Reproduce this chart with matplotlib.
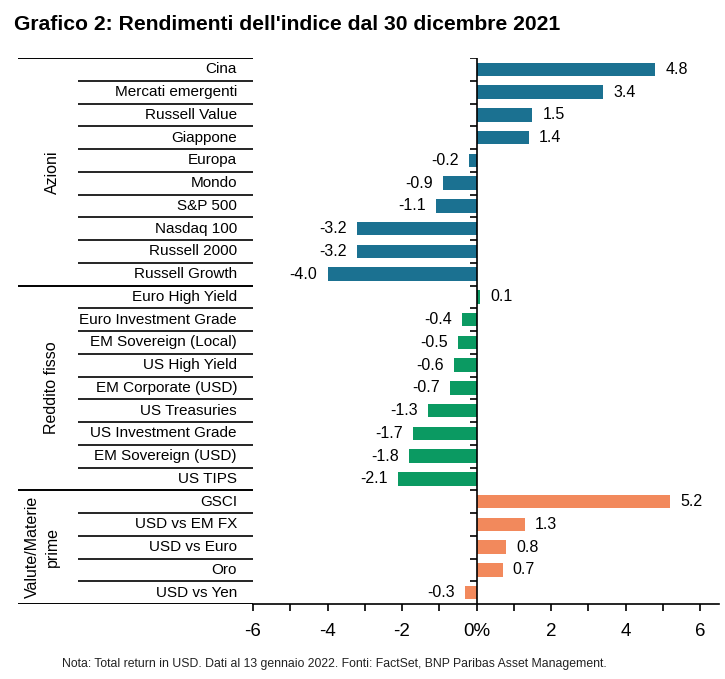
import matplotlib
matplotlib.use("Agg")
import matplotlib.pyplot as plt
import numpy as np

plt.rcParams['font.family'] = ['Liberation Sans', 'DejaVu Sans']

# dati
categorie = ['Cina', 'Mercati emergenti', 'Russell Value', 'Giappone', 'Europa',
             'Mondo', 'S&P 500', 'Nasdaq 100', 'Russell 2000', 'Russell Growth',
             'Euro High Yield', 'Euro Investment Grade', 'EM Sovereign (Local)',
             'US High Yield', 'EM Corporate (USD)', 'US Treasuries',
             'US Investment Grade', 'EM Sovereign (USD)', 'US TIPS',
             'GSCI', 'USD vs EM FX', 'USD vs Euro', 'Oro', 'USD vs Yen']
valori = [4.8, 3.4, 1.5, 1.4, -0.2, -0.9, -1.1, -3.2, -3.2, -4.0,
          0.1, -0.4, -0.5, -0.6, -0.7, -1.3, -1.7, -1.8, -2.1,
          5.2, 1.3, 0.8, 0.7, -0.3]
gruppi = ['Azioni', 'Reddito fisso', 'Valute/Materie\nprime']
n_gruppo = [10, 9, 5]
colori_gruppo = ['#1b7191', '#0b9a62', '#f2895c']
xticks = [-6, -4, -2, 0, 2, 4, 6]
xticklabels = ['-6', '-4', '-2', '0%', '2', '4', '6']

W, H = 725, 679
fig = plt.figure(figsize=(W / 100, H / 100), dpi=100)

top_px, bot_px = 58, 604
ax = fig.add_axes([253 / W, 1 - bot_px / H, (719 - 253) / W, (bot_px - top_px) / H])
lab = fig.add_axes([18 / W, 1 - bot_px / H, (253 - 18) / W, (bot_px - top_px) / H], sharey=ax)

n = len(categorie)
y = np.arange(n)
colori = np.repeat(colori_gruppo, n_gruppo)

ax.barh(y, valori, height=0.6, color=colori)
ax.set_xlim(-6, 6.51)

# etichette valori
for yi, v in zip(y, valori):
    if v >= 0:
        ax.text(v + 0.27, yi, f'{v:.1f}', va='center', ha='left', fontsize=11.5)
    else:
        ax.text(v - 0.27, yi, f'{v:.1f}', va='center', ha='right', fontsize=11.5)

# asse dello zero con tacche
ax.axvline(0, color='black', lw=1.2)
confini = np.arange(n + 1) - 0.5
ax.plot(np.zeros(len(confini) - 1), confini[:-1], ls='none', marker=0,
        markersize=5, color='black', mew=1.2)

for s in ['top', 'right', 'left']:
    ax.spines[s].set_visible(False)
ax.spines['bottom'].set_linewidth(1.2)
ax.set_yticks([])
ax.set_xticks(xticks)
ax.set_xticklabels(xticklabels, fontsize=13.5)
ax.set_xticks(np.arange(-6, 7, 1), minor=True)
ax.tick_params(axis='x', which='both', direction='out', length=5, width=1.2, pad=9)

# tabella etichette
lab.set_xlim(0, 235)
lab.axis('off')
for yi, c in zip(y, categorie):
    lab.text(219, yi, c, ha='right', va='center', fontsize=11)

fine_gruppi = np.cumsum(n_gruppo)
inizio_gruppi = fine_gruppi - np.array(n_gruppo)
for b in confini:
    if b + 0.5 in inizio_gruppi or b == n - 0.5:
        lab.plot([0, 235], [b, b], color='black', lw=1.4, solid_capstyle='butt')
    else:
        lab.plot([60, 235], [b, b], color='black', lw=1.2, solid_capstyle='butt')

gruppo_y = (inizio_gruppi + fine_gruppi - 1) / 2
gruppo_x = [34, 34, 24.5]
for g, gx, gy in zip(gruppi, gruppo_x, gruppo_y):
    lab.text(gx, gy, g, rotation=90, ha='center', va='center', fontsize=11.5,
             linespacing=1.35, multialignment='center')

ax.set_ylim(n - 0.5, -0.5)

fig.text(14 / W, 1 - 25 / H, "Grafico 2: Rendimenti dell'indice dal 30 dicembre 2021",
         fontsize=15.2, fontweight='bold', ha='left', va='center')
fig.text(62 / W, 1 - 664 / H,
         'Nota: Total return in USD. Dati al 13 gennaio 2022. Fonti: FactSet, BNP Paribas Asset Management.',
         fontsize=8.8, ha='left', va='center', color='#222222')

fig.savefig('out.png', dpi=100)
